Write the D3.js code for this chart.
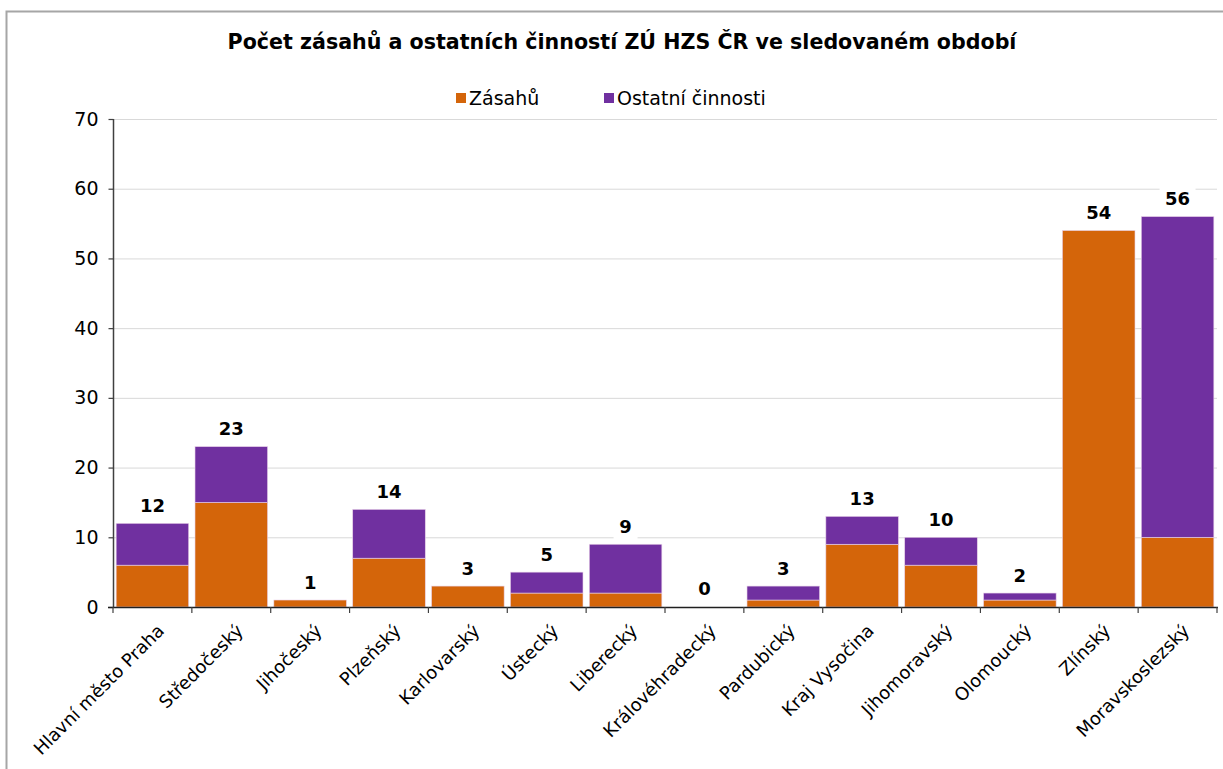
<!DOCTYPE html>
<html>
<head>
<meta charset="utf-8">
<script src="https://cdn.jsdelivr.net/npm/d3@7"></script>
<style>
	body { margin: 0; background: #fff; }
	text { font-family: 'DejaVu Sans', sans-serif; fill: #000; }
</style>
</head>
<body>
<div id="chart"></div>
<script>
var regions = ['Hlavní město Praha', 'Středočeský', 'Jihočeský', 'Plzeňský', 'Karlovarský', 'Ústecký',
	'Liberecký', 'Královéhradecký', 'Pardubický', 'Kraj Vysočina', 'Jihomoravský', 'Olomoucký', 'Zlínský', 'Moravskoslezský'];
var zasahu = [6, 15, 1, 7, 3, 2, 2, 0, 1, 9, 6, 1, 54, 10];
var ostatni = [6, 8, 0, 7, 0, 3, 7, 0, 2, 4, 4, 1, 0, 46];
var seriesNames = ['Zásahů', 'Ostatní činnosti'];
var colors = ['#d4650a', '#7030a0'];
var yTicks = [0, 10, 20, 30, 40, 50, 60, 70];

var W = 1223, H = 769;
var svg = d3.select('#chart').append('svg').attr('width', W).attr('height', H);

// chart frame (only top + left edges visible)
svg.append('path')
	.attr('d', 'M6.5,769 V11.5 H1223')
	.attr('fill', 'none').attr('stroke', '#a6a6a6').attr('stroke-width', 2);

var plotLeft = 113, plotRight = 1217, plotTop = 119, plotBottom = 607;

var x = d3.scaleBand().domain(regions).range([plotLeft, plotRight]).paddingInner(0.08).paddingOuter(0.04);
var y = d3.scaleLinear().domain([0, 70]).range([plotBottom, plotTop]);

// gridlines
svg.append('g').selectAll('line').data(yTicks.slice(1)).enter().append('line')
	.attr('x1', plotLeft).attr('x2', plotRight)
	.attr('y1', function(d) { return y(d) + 0.5; }).attr('y2', function(d) { return y(d) + 0.5; })
	.attr('stroke', '#d9d9d9').attr('stroke-width', 1);

// stacked bars
var rows = regions.map(function(r, i) { return { region: r, z: zasahu[i], o: ostatni[i] }; });
var stack = d3.stack().keys(['z', 'o'])(rows);

svg.append('g').selectAll('g').data(stack).enter().append('g')
	.attr('fill', function(d, i) { return colors[i]; })
	.selectAll('rect').data(function(d) { return d; }).enter().append('rect')
	.attr('x', function(d) { return x(d.data.region); })
	.attr('width', x.bandwidth())
	.attr('y', function(d) { return y(d[1]); })
	.attr('height', function(d) { return y(d[0]) - y(d[1]); })
	.attr('stroke', '#e8d0e8').attr('stroke-width', 0.6)
	.style('display', function(d) { return d[1] - d[0] > 0 ? null : 'none'; });

// y axis
var yAxis = d3.axisLeft(y).tickValues(yTicks).tickSize(5).tickPadding(10);
var gy = svg.append('g').attr('transform', 'translate(' + (plotLeft + 0.5) + ',0)').call(yAxis);
gy.select('.domain').attr('stroke', '#404040').attr('stroke-width', 1.5).attr('d', 'M0,' + y(70) + 'V' + plotBottom);
gy.selectAll('.tick line').attr('stroke', '#404040').attr('stroke-width', 1.2);
gy.selectAll('.tick text').style('font-size', '19px').style('font-family', "'DejaVu Sans', sans-serif").attr('fill', '#000');

// x axis line and boundary ticks
svg.append('line').attr('x1', plotLeft - 5).attr('x2', plotRight + 1)
	.attr('y1', plotBottom + 0.5).attr('y2', plotBottom + 0.5)
	.attr('stroke', '#202020').attr('stroke-width', 1.5);
svg.append('g').selectAll('line').data(d3.range(regions.length + 1)).enter().append('line')
	.attr('x1', function(i) { return plotLeft + i * (plotRight - plotLeft) / regions.length; })
	.attr('x2', function(i) { return plotLeft + i * (plotRight - plotLeft) / regions.length; })
	.attr('y1', plotBottom).attr('y2', plotBottom + 6)
	.attr('stroke', '#404040').attr('stroke-width', 1.2);

// category labels
svg.append('g').selectAll('text').data(regions).enter().append('text')
	.attr('transform', function(d) {
		return 'translate(' + (x(d) + x.bandwidth() / 2 + 4) + ',' + (plotBottom + 16) + ') rotate(-45)';
	})
	.attr('text-anchor', 'end')
	.attr('dy', '0.7em')
	.style('font-size', '18px')
	.text(function(d) { return d; });

// total labels with white box
var totals = regions.map(function(r, i) { return zasahu[i] + ostatni[i]; });
var lbl = svg.append('g').selectAll('g').data(regions).enter().append('g')
	.attr('transform', function(d, i) {
		return 'translate(' + (x(d) + x.bandwidth() / 2) + ',' + (y(totals[i]) - 18) + ')';
	});
lbl.append('rect')
	.attr('x', function(d, i) { return totals[i] >= 10 ? -18 : -12; })
	.attr('width', function(d, i) { return totals[i] >= 10 ? 36 : 24; })
	.attr('y', -14).attr('height', 28).attr('fill', '#fff');
lbl.append('text')
	.attr('text-anchor', 'middle').attr('dy', '0.36em')
	.style('font-size', '18px').style('font-weight', 'bold')
	.text(function(d, i) { return totals[i]; });

// title
svg.append('text')
	.attr('x', 622).attr('y', 49).attr('text-anchor', 'middle')
	.style('font-size', '20.6px').style('font-weight', 'bold')
	.text('Počet zásahů a ostatních činností ZÚ HZS ČR ve sledovaném období');

// legend
var legendX = [456, 604];
var lg = svg.append('g').selectAll('g').data(seriesNames).enter().append('g')
	.attr('transform', function(d, i) { return 'translate(' + legendX[i] + ',98)'; });
lg.append('rect').attr('x', 0).attr('y', -5).attr('width', 10).attr('height', 10)
	.attr('fill', function(d, i) { return colors[i]; });
lg.append('text').attr('x', 13).attr('dy', '0.35em')
	.style('font-size', '19px')
	.text(function(d) { return d; });
</script>
</body>
</html>
